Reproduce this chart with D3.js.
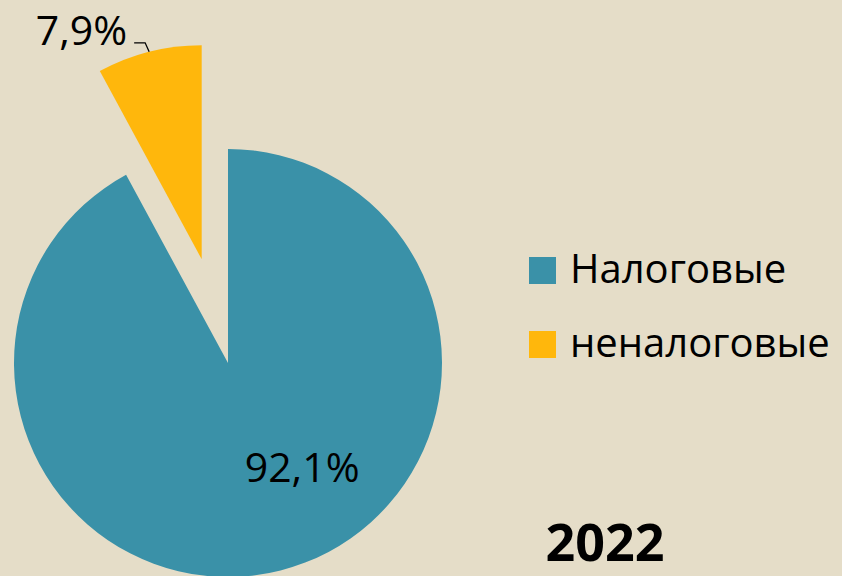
<!DOCTYPE html>
<html>
<head>
<meta charset="utf-8">
<script src="https://cdn.jsdelivr.net/npm/d3@7"></script>
<style>
  body { margin: 0; background: #e5ddc8; }
  svg { display: block; font-family: "Open Sans", sans-serif; }
</style>
</head>
<body>
<svg id="chart" width="842" height="576"></svg>
<script>
var categories = ["Налоговые", "неналоговые"];
var values = [92.1, 7.9];
var valueLabels = ["92,1%", "7,9%"];
var year = "2022";
var colors = ["#3a91a8", "#ffb70c"];

var width = 842, height = 576;
var cx = 228, cy = 363, radius = 214;
var explode = [0, 107]; // how far each slice is pulled out

var svg = d3.select("#chart");
svg.append("rect").attr("width", width).attr("height", height).attr("fill", "#e5ddc8");

var pie = d3.pie().sort(null).value(function(d) { return d; });
var arcs = pie(values);
var arc = d3.arc().innerRadius(0).outerRadius(radius);

var g = svg.append("g").attr("transform", "translate(" + cx + "," + cy + ")");

function offset(d, i) {
    var a = (d.startAngle + d.endAngle) / 2;
    return [Math.sin(a) * explode[i], -Math.cos(a) * explode[i]];
}

g.selectAll("path.slice")
    .data(arcs)
    .enter().append("path")
    .attr("class", "slice")
    .attr("d", arc)
    .attr("fill", function(d, i) { return colors[i]; })
    .attr("transform", function(d, i) {
        var o = offset(d, i);
        return "translate(" + o[0] + "," + o[1] + ")";
    });

// big slice label, inside
var a0 = 144.3 * Math.PI / 180, r0 = 127;
g.append("text")
    .attr("x", Math.sin(a0) * r0)
    .attr("y", -Math.cos(a0) * r0)
    .attr("text-anchor", "middle")
    .attr("dominant-baseline", "central")
    .attr("font-size", 41)
    .attr("fill", "#000")
    .text(valueLabels[0]);

// small slice label, outside with leader line
var d1 = arcs[1], o1 = offset(d1, 1);
var edgeA = (d1.startAngle + d1.endAngle) / 2;
var ex = o1[0] + Math.sin(edgeA) * radius, ey = o1[1] - Math.cos(edgeA) * radius;
g.append("path")
    .attr("d", "M" + ex + "," + ey + "L" + (ex - 4) + "," + (ey - 9) + "L" + (ex - 15) + "," + (ey - 9))
    .attr("fill", "none")
    .attr("stroke", "#000")
    .attr("stroke-width", 1.3);
g.append("text")
    .attr("x", ex - 22)
    .attr("y", ey - 7)
    .attr("text-anchor", "end")
    .attr("font-size", 41)
    .attr("fill", "#000")
    .text(valueLabels[1]);

// legend
var legend = svg.append("g").attr("transform", "translate(529,257)");
var item = legend.selectAll("g")
    .data(categories)
    .enter().append("g")
    .attr("transform", function(d, i) { return "translate(0," + i * 74 + ")"; });
item.append("rect")
    .attr("width", 27).attr("height", 27)
    .attr("fill", function(d, i) { return colors[i]; });
item.append("text")
    .attr("x", 41).attr("y", 26)
    .attr("font-size", 40)
    .attr("fill", "#000")
    .text(function(d) { return d; });

svg.append("text")
    .attr("x", 605).attr("y", 561)
    .attr("text-anchor", "middle")
    .attr("font-size", 52)
    .attr("font-weight", "bold")
    .attr("fill", "#000")
    .text(year);
</script>
</body>
</html>
